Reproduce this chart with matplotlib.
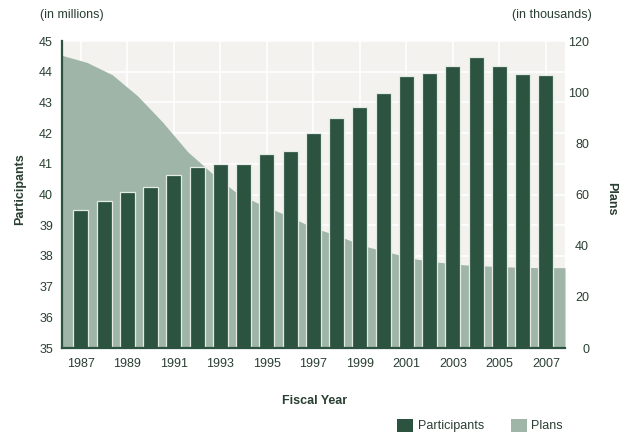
import matplotlib
matplotlib.use("Agg")
import matplotlib.pyplot as plt
from matplotlib.patches import Patch
from matplotlib.ticker import FixedLocator

plt.rcParams["font.family"] = ["Liberation Sans", "DejaVu Sans"]

# Fiscal years, participants (millions) and insured plans (thousands)
years = list(range(1987, 2008))
participants = [39.51, 39.80, 40.07, 40.24, 40.63, 40.91, 40.98, 40.98, 41.32, 41.42,
                42.01, 42.48, 42.85, 43.29, 43.85, 43.96, 44.17, 44.47, 44.19, 43.91, 43.90]
plans = [114.4, 111.6, 106.8, 98.6, 88.3, 76.7, 68.0, 60.2, 55.7, 51.6,
         47.0, 43.8, 39.9, 37.4, 34.9, 33.5, 32.5, 32.0, 31.6, 31.4, 31.4]
year_ticks = list(range(1987, 2008, 2))
left_ticks = list(range(35, 46))
right_ticks = list(range(0, 121, 20))

DARK = "#2c5240"
LIGHT = "#9fb5a8"
BG = "#f3f2ee"
TEXT = "#2a3f33"
FS = 9

fig = plt.figure(figsize=(6.29, 4.36), dpi=100)
W, H = 629, 436
rect = [62 / W, (H - 348) / H, (565 - 62) / W, (348 - 41) / H]

# Background layer: panel colour and white grid following the left scale
ax_bg = fig.add_axes(rect)
ax_bg.set_facecolor(BG)
ax_bg.set_xlim(1986.19, 2007.82)
ax_bg.set_ylim(35, 45)
ax_bg.xaxis.set_major_locator(FixedLocator(year_ticks))
ax_bg.yaxis.set_major_locator(FixedLocator(left_ticks))
ax_bg.grid(True, color="white", linewidth=1.2)
ax_bg.tick_params(length=0, labelbottom=False, labelleft=False)
for s in ax_bg.spines.values():
    s.set_visible(False)

# Plans area on the right-hand scale
ax_area = fig.add_axes(rect, facecolor="none")
ax_area.fill_between(years, plans, 0, color=LIGHT, linewidth=0)
ax_area.set_xlim(1987, 2007)
ax_area.set_ylim(0, 120)
ax_area.set_xticks([])
ax_area.yaxis.tick_right()
ax_area.yaxis.set_major_locator(FixedLocator(right_ticks))
ax_area.tick_params(axis="y", length=0, pad=17.3, labelsize=FS, labelcolor=TEXT)
for lbl in ax_area.get_yticklabels():
    lbl.set_horizontalalignment("right")
for s in ax_area.spines.values():
    s.set_visible(False)

# Participants bars on the left-hand scale (clipped at the 35 baseline)
ax = fig.add_axes(rect, facecolor="none", sharex=ax_bg, sharey=ax_bg)
ax.bar(years, participants, width=0.645, color=DARK,
       edgecolor="#e4ebe4", linewidth=0.9)
ax.set_xlim(1986.19, 2007.82)
ax.set_ylim(35, 45)
ax.xaxis.set_major_locator(FixedLocator(year_ticks))
ax.yaxis.set_major_locator(FixedLocator(left_ticks))
ax.tick_params(length=0, labelsize=FS, labelcolor=TEXT)
ax.tick_params(axis="y", pad=6.5)
ax.tick_params(axis="x", pad=7)
ax.grid(False)
for side in ("top", "right"):
    ax.spines[side].set_visible(False)
for side in ("left", "bottom"):
    ax.spines[side].set_color(DARK)
    ax.spines[side].set_linewidth(1.6)

fig.text(40 / W, 1 - 15 / H, "(in millions)", ha="left", va="center",
         fontsize=FS, color=TEXT)
fig.text(592 / W, 1 - 15 / H, "(in thousands)", ha="right", va="center",
         fontsize=FS, color=TEXT)
fig.text(20.5 / W, 1 - 189 / H, "Participants", rotation=90, ha="center",
         va="center", fontsize=FS, color=TEXT, fontweight="bold")
fig.text(611 / W, 1 - 199 / H, "Plans", rotation=270, ha="center",
         va="center", fontsize=FS, color=TEXT, fontweight="bold")
fig.text(315 / W, 1 - 401 / H, "Fiscal Year", ha="center", va="center",
         fontsize=FS, color=TEXT, fontweight="bold")

handles = [Patch(facecolor=DARK, edgecolor="none", label="Participants"),
           Patch(facecolor=LIGHT, edgecolor="none", label="Plans")]
fig.legend(handles=handles, loc="center left", bbox_to_anchor=(397 / W, 1 - 425.5 / H),
           ncol=2, frameon=False, fontsize=FS, labelcolor=TEXT,
           handlelength=1.28, handleheight=1.2, handletextpad=0.4,
           columnspacing=2.1, borderpad=0, borderaxespad=0)

fig.savefig("out.png", dpi=100)
